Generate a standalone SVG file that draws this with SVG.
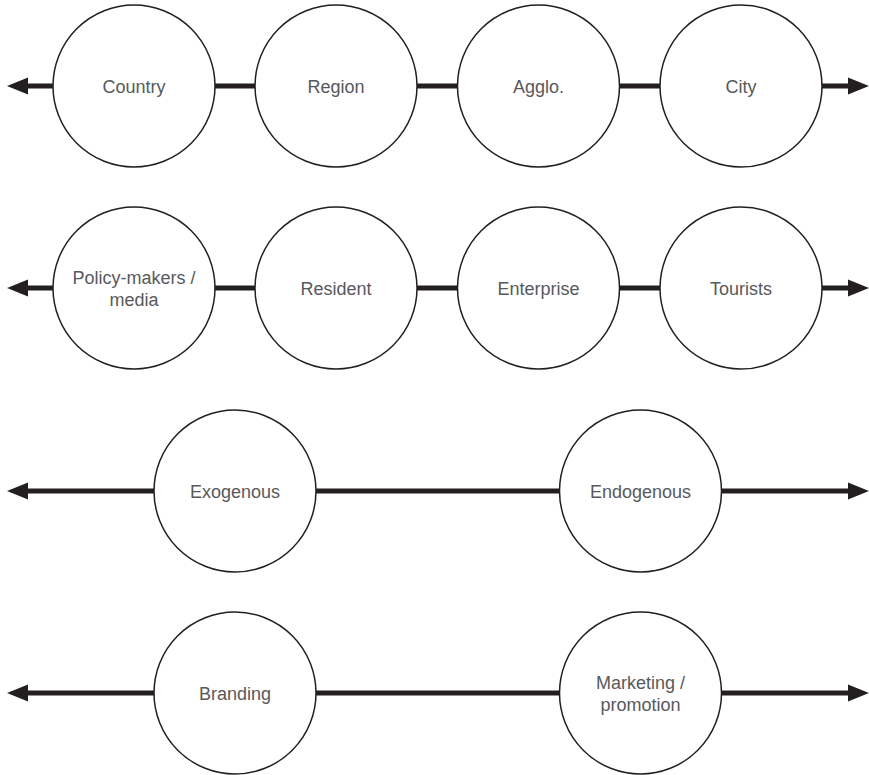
<svg xmlns="http://www.w3.org/2000/svg" width="869" height="775" viewBox="0 0 869 775">
<style>
.bg{fill:#ffffff}
.node circle{fill:#ffffff;stroke:#231f20;stroke-width:1.5}
.node text{font-family:"Liberation Sans",Arial,sans-serif;font-size:18px;fill:#58595b;text-anchor:middle}
.conn line{stroke:#231f20;stroke-width:5}
.arr{marker-end:url(#ah)}
</style>
<defs>
<marker id="ah" markerUnits="userSpaceOnUse" markerWidth="22" markerHeight="18" refX="0" refY="8.5" orient="auto" viewBox="0 0 22 17">
<path d="M0,0 L21,8.5 L0,17 z" fill="#231f20"/>
</marker>
</defs>
<rect class="bg" x="0" y="0" width="869" height="775"/>
<g id="connectors" class="conn">
<!-- row 1 -->
<line class="arr" x1="53" y1="86" x2="28" y2="86"/>
<line x1="215" y1="86" x2="255" y2="86"/>
<line x1="417" y1="86" x2="458" y2="86"/>
<line x1="619" y1="86" x2="660" y2="86"/>
<line class="arr" x1="822" y1="86" x2="848" y2="86"/>
<!-- row 2 -->
<line class="arr" x1="53" y1="288" x2="28" y2="288"/>
<line x1="215" y1="288" x2="255" y2="288"/>
<line x1="417" y1="288" x2="458" y2="288"/>
<line x1="619" y1="288" x2="660" y2="288"/>
<line class="arr" x1="822" y1="288" x2="848" y2="288"/>
<!-- row 3 -->
<line class="arr" x1="154" y1="491" x2="28" y2="491"/>
<line x1="316" y1="491" x2="560" y2="491"/>
<line class="arr" x1="721" y1="491" x2="848" y2="491"/>
<!-- row 4 -->
<line class="arr" x1="154" y1="693" x2="28" y2="693"/>
<line x1="316" y1="693" x2="560" y2="693"/>
<line class="arr" x1="721" y1="693" x2="848" y2="693"/>
</g>
<g id="n-country" class="node"><circle cx="134" cy="86" r="81"/><text x="134" y="92.5">Country</text></g>
<g id="n-region" class="node"><circle cx="336" cy="86" r="81"/><text x="336" y="92.5">Region</text></g>
<g id="n-agglo" class="node"><circle cx="538.5" cy="86" r="81"/><text x="538.5" y="92.5">Agglo.</text></g>
<g id="n-city" class="node"><circle cx="741" cy="86" r="81"/><text x="741" y="92.5">City</text></g>
<g id="n-policy" class="node"><circle cx="134" cy="288" r="81"/><text x="134" y="284"><tspan x="134">Policy-makers /</tspan><tspan x="134" dy="22">media</tspan></text></g>
<g id="n-resident" class="node"><circle cx="336" cy="288" r="81"/><text x="336" y="294.5">Resident</text></g>
<g id="n-enterprise" class="node"><circle cx="538.5" cy="288" r="81"/><text x="538.5" y="294.5">Enterprise</text></g>
<g id="n-tourists" class="node"><circle cx="741" cy="288" r="81"/><text x="741" y="294.5">Tourists</text></g>
<g id="n-exogenous" class="node"><circle cx="235" cy="491" r="81"/><text x="235" y="497.5">Exogenous</text></g>
<g id="n-endogenous" class="node"><circle cx="640.5" cy="491" r="81"/><text x="640.5" y="497.5">Endogenous</text></g>
<g id="n-branding" class="node"><circle cx="235" cy="693" r="81"/><text x="235" y="699.5">Branding</text></g>
<g id="n-marketing" class="node"><circle cx="640.5" cy="693" r="81"/><text x="640.5" y="689"><tspan x="640.5">Marketing /</tspan><tspan x="640.5" dy="22">promotion</tspan></text></g>
</svg>
